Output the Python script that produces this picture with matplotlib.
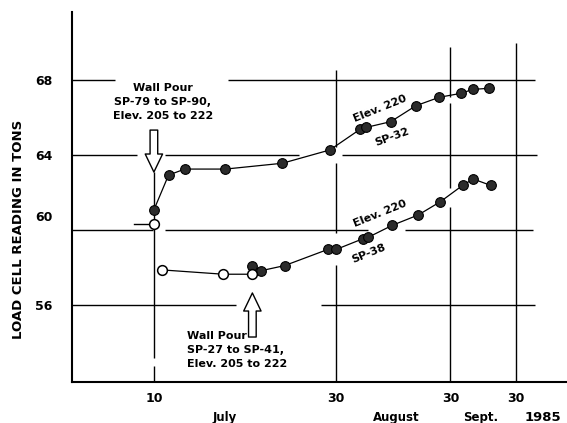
import numpy as np
import matplotlib
matplotlib.use("Agg")
import matplotlib.pyplot as plt
import matplotlib.transforms as mtransforms

# days after July 10, 1985 (time axis is logarithmic, origin about June 30)
LOG_OFFSET = 9.3

# SP-32, Elev. 220 (upper curve)
sp32_open_days = [0.0]
sp32_open_tons = [60.30]
sp32_days = [0.0, 0.9, 2.0, 5.3, 11.6, 18.9, 24.8, 26.1, 32.1, 39.2, 46.9, 55.1, 60.1, 67.7]
sp32_tons = [61.07, 62.93, 63.25, 63.25, 63.56, 64.27, 65.37, 65.47, 65.78, 66.63, 67.08, 67.29, 67.50, 67.56]

# SP-38, Elev. 220 (lower curve)
sp38_open_days = [0.5, 5.1, 8.0]
sp38_open_tons = [57.87, 57.64, 57.64]
sp38_days = [8.0, 9.0, 11.9, 18.6, 20.1, 25.5, 26.6, 32.5, 39.9, 47.3, 55.8, 60.3, 68.4]
sp38_tons = [58.08, 57.83, 58.10, 58.97, 58.97, 59.54, 59.61, 60.25, 60.80, 61.51, 62.38, 62.72, 62.38]

y_ticks = [56, 60, 64, 68]
x_ticks = [0, 20, 51, 82]
x_tick_labels = ["10", "30", "30", "30"]
months = ["July", "August", "Sept.", "1985"]
month_days = [5.2, 33.5, 63.8, 98.7]

pour_day_upper = 0.0
pour_day_lower = 8.0


def fwd(d):
    return np.log(np.maximum(np.asarray(d, dtype=float) + LOG_OFFSET, 1e-6))


def inv(v):
    return np.exp(v) - LOG_OFFSET


fig = plt.figure(figsize=(5.67, 4.23), dpi=100)
ax = fig.add_axes([72 / 567, 1 - 382 / 423, 495 / 567, 370 / 423])
ax.set_xscale("function", functions=(fwd, inv))
ax.set_xlim(-3.75, 116.4)
ax.set_ylim(51.89, 71.63)

# hand drawn grid, broken where curves and notes cross it
hgrid = {
    68: [(-3.75, -2.0), (5.5, 93.5)],
    64: [(-3.75, -0.95), (0.7, 13.9), (21.1, 94.8)],
    60: [(-3.75, -0.06), (0.7, 26.5), (36.0, 92.2)],
    56: [(-3.75, 6.3), (17.4, 93.5)],
}
for yv, segs in hgrid.items():
    for a, b in segs:
        ax.plot([a, b], [yv, yv], color="black", lw=1.0, solid_capstyle="butt", zorder=1)

vgrid = {
    0: [(51.89, 52.75), (53.17, 63.09)],
    20: [(51.89, 58.13), (59.84, 63.57), (64.43, 68.53)],
    51: [(51.89, 61.23), (62.24, 66.77), (67.09, 69.76)],
    82: [(51.89, 69.97)],
}
for xv, segs in vgrid.items():
    for a, b in segs:
        ax.plot([xv, xv], [a, b], color="black", lw=1.0, solid_capstyle="butt", zorder=1)

# curves
ax.plot(sp32_days, sp32_tons, color="black", lw=0.9, zorder=2)
ax.plot(sp32_days, sp32_tons, "o", ms=7, mfc="#2b2b2b", mec="black", mew=0.8, zorder=3)
ax.plot([-1.1, -0.1], [sp32_open_tons[0]] * 2, color="black", lw=1.0, zorder=2)
ax.plot(sp32_open_days, sp32_open_tons, "o", ms=7, mfc="white", mec="black", mew=1.1, zorder=3)

ax.plot(sp38_open_days + sp38_days, sp38_open_tons + sp38_tons, color="black", lw=0.9, zorder=2)
ax.plot(sp38_days, sp38_tons, "o", ms=7, mfc="#2b2b2b", mec="black", mew=0.8, zorder=3)
ax.plot(sp38_open_days, sp38_open_tons, "o", ms=7, mfc="white", mec="black", mew=1.1, zorder=4)

# wall pour arrows
arrow = dict(arrowstyle="simple,head_length=1.3,head_width=1.25,tail_width=0.55",
             fc="white", ec="black", lw=1.0, shrinkA=0, shrinkB=0, mutation_scale=10)
ax.annotate("", xy=(pour_day_upper, 63.09), xytext=(pour_day_upper, 65.33), arrowprops=arrow)
ax.annotate("", xy=(pour_day_lower, 56.64), xytext=(pour_day_lower, 54.29), arrowprops=arrow)

note = dict(fontsize=8, fontweight="bold", linespacing=1.5)
ax.text(0.54, 66.83, "Wall Pour\nSP-79 to SP-90,\nElev. 205 to 222",
        ha="center", va="center", multialignment="center", **note)
ax.text(2.15, 53.6, "Wall Pour\nSP-27 to SP-41,\nElev. 205 to 222",
        ha="left", va="center", multialignment="left", **note)

ax.text(29.4, 66.45, "Elev. 220", rotation=22, ha="center", va="center", **note)
ax.text(32.4, 64.96, "SP-32", rotation=20, ha="center", va="center", **note)
ax.text(29.4, 60.85, "Elev. 220", rotation=22, ha="center", va="center", **note)
ax.text(26.8, 58.77, "SP-38", rotation=22, ha="center", va="center", **note)

# axes
for s in ["top", "right"]:
    ax.spines[s].set_visible(False)
ax.spines["left"].set_linewidth(1.5)
ax.spines["bottom"].set_linewidth(1.5)

ax.set_yticks(y_ticks)
ax.set_yticklabels([str(v) for v in y_ticks])
ax.set_xticks(x_ticks)
ax.set_xticklabels(x_tick_labels)
ax.xaxis.set_minor_locator(matplotlib.ticker.NullLocator())
ax.tick_params(axis="y", length=0, pad=14, labelsize=9)
ax.tick_params(axis="x", length=0, pad=7, labelsize=9)
for lbl in ax.get_yticklabels() + ax.get_xticklabels():
    lbl.set_fontweight("bold")
for lbl in ax.get_yticklabels():
    if lbl.get_text() == "60":
        lbl.set_transform(lbl.get_transform() +
                          mtransforms.ScaledTranslation(0, 0.14, fig.dpi_scale_trans))

trans = mtransforms.blended_transform_factory(ax.transData, ax.transAxes)
for name, d in zip(months, month_days):
    ax.text(d, -0.097, name, transform=trans, ha="center", va="center",
            fontsize=9.5 if name == "1985" else 8.5, fontweight="bold", clip_on=False)

fig.text(19 / 567, 1 - 229 / 423, "LOAD CELL READING IN TONS", rotation=90,
         ha="center", va="center", fontsize=9.5, fontweight="bold")

fig.savefig("out.png", dpi=100)
